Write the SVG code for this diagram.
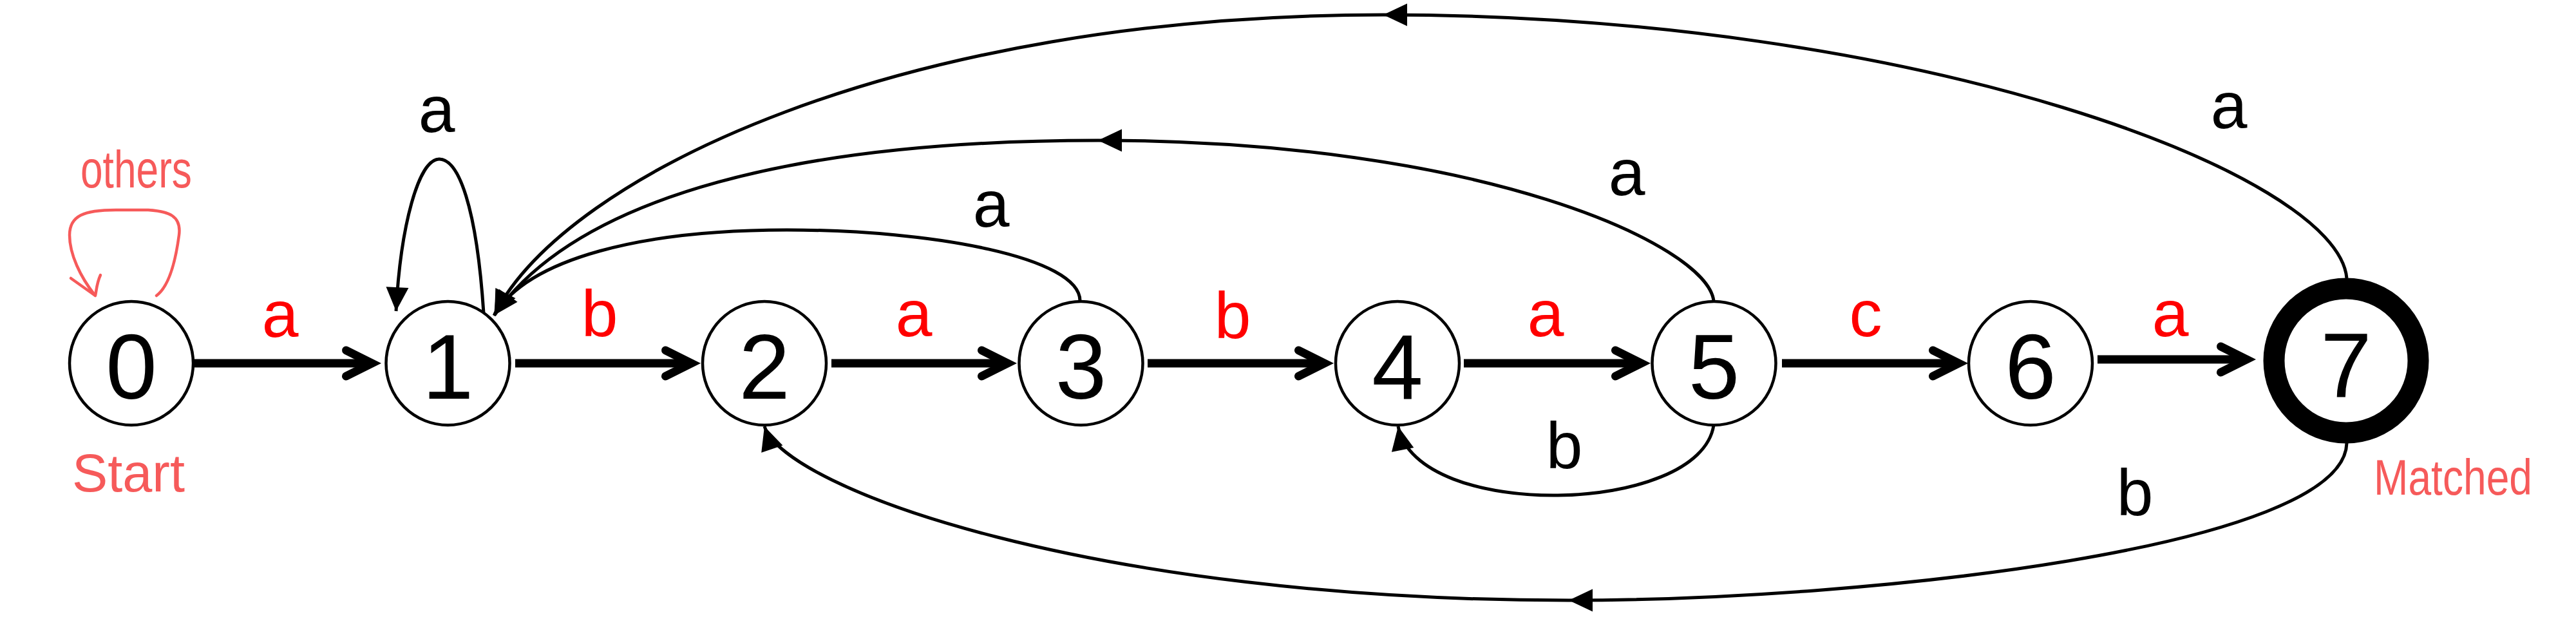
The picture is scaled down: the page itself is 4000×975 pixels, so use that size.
<svg xmlns="http://www.w3.org/2000/svg" width="4000" height="975" viewBox="0 0 4000 975">
<style>
.node circle{fill:#fff;stroke:#000;stroke-width:4.5}
.node text{font-family:"Liberation Sans",Arial,sans-serif;font-size:143px;text-anchor:middle;fill:#000}
.main{fill:none;stroke:#000;stroke-width:13;marker-end:url(#chev)}
.thin{fill:none;stroke:#000;stroke-width:5}
.lbl{font-family:"Liberation Sans Narrow","Liberation Sans",Arial,sans-serif;font-size:102px;text-anchor:middle}
.red{fill:#ff0000}
.blk{fill:#000}
.hand{font-family:"Liberation Sans Narrow","Liberation Sans",Arial,sans-serif;fill:#f65a5a}
.handline{fill:none;stroke:#f65a5a;stroke-width:4.5;stroke-linecap:round;stroke-linejoin:round}
</style>
<defs>
<marker id="chev" markerUnits="userSpaceOnUse" markerWidth="100" markerHeight="100" viewBox="-60 -50 100 100" refX="0" refY="0" orient="auto" overflow="visible">
<path d="M-40,-20 L0,0 L-40,20" fill="none" stroke="#000" stroke-width="13" stroke-linecap="round" stroke-linejoin="miter" stroke-miterlimit="10"/>
</marker>
<marker id="tri" markerUnits="userSpaceOnUse" markerWidth="60" markerHeight="60" viewBox="-50 -30 60 60" refX="0" refY="0" orient="auto" overflow="visible">
<path d="M0,0 L-37,-17.5 L-37,17.5 Z" fill="#000"/>
</marker>
</defs>
<rect width="4000" height="975" fill="#fff"/>

<g id="connectors">
<path class="main" d="M302,564 L577.5,564"/>
<path class="main" d="M800,564 L1073.5,564"/>
<path class="main" d="M1291,564 L1564.5,564"/>
<path class="main" d="M1782,564 L2056.5,564"/>
<path class="main" d="M2273,564 L2548.5,564"/>
<path class="main" d="M2767,564 L3041.5,564"/>
<path class="main" d="M3257,558 L3488.5,558"/>

<path class="thin" marker-end="url(#tri)" d="M751,486 C740,320 712,247 682,247 C650,247 622,350 615,483"/>
<path class="thin" marker-end="url(#tri)" d="M1677,467 C1677,400 1450,357 1222,357 C1000,357 820,400 767,490"/>
<path class="thin" marker-mid="url(#tri)" marker-end="url(#tri)" d="M2661,467 C2650,380 2300,218 1705,218 C1250,218 900,300 768,489"/>
<path class="thin" marker-mid="url(#tri)" marker-end="url(#tri)" d="M3644,432 C3630,270 2980,23 2148,23 C1400,23 880,270 768,488"/>
<path class="thin" marker-end="url(#tri)" d="M2661,660 C2640,800 2200,810 2171,662"/>
<path class="thin" marker-mid="url(#tri)" marker-end="url(#tri)" d="M3644,688 C3640,850 2900,932 2436,932 C1700,932 1220,760 1187,662"/>

<path class="handline" d="M243,459 C262,445 272,410 278,365 C282,335 262,328 230,326 L180,326 C130,326 108,335 108,365 C108,395 125,430 147,458"/>
<path class="handline" d="M110,432 L148,459 M156,427 C150,440 150,450 148,459"/>
</g>

<g id="edge-labels">
<text class="lbl red" x="435" y="523">a</text>
<text class="lbl red" x="931" y="522">b</text>
<text class="lbl red" x="1419" y="522">a</text>
<text class="lbl red" x="1914" y="525">b</text>
<text class="lbl red" x="2400" y="522">a</text>
<text class="lbl red" x="2897" y="522">c</text>
<text class="lbl red" x="3370" y="522">a</text>
<text class="lbl blk" x="678" y="205">a</text>
<text class="lbl blk" x="1539" y="352">a</text>
<text class="lbl blk" x="2526" y="303">a</text>
<text class="lbl blk" x="3461" y="199">a</text>
<text class="lbl blk" x="2429" y="727">b</text>
<text class="lbl blk" x="3315" y="800">b</text>
</g>

<g id="node0" class="node"><circle cx="204" cy="564" r="96"/><text x="204" y="619">0</text></g>
<g id="node1" class="node"><circle cx="695.5" cy="564" r="96"/><text x="695.5" y="619">1</text></g>
<g id="node2" class="node"><circle cx="1187" cy="564" r="96"/><text x="1187" y="619">2</text></g>
<g id="node3" class="node"><circle cx="1678.5" cy="564" r="96"/><text x="1678.5" y="619">3</text></g>
<g id="node4" class="node"><circle cx="2170" cy="564" r="96"/><text x="2170" y="619">4</text></g>
<g id="node5" class="node"><circle cx="2661.5" cy="564" r="96"/><text x="2661.5" y="619">5</text></g>
<g id="node6" class="node"><circle cx="3153" cy="564" r="96"/><text x="3153" y="619">6</text></g>
<g id="node7" class="node"><circle cx="3643" cy="560" r="112" style="stroke-width:33"/><text x="3643" y="617">7</text></g>

<g id="annotations">
<text class="hand" x="125" y="291" font-size="82" textLength="173" lengthAdjust="spacingAndGlyphs">others</text>
<text class="hand" x="112" y="763" font-size="84" textLength="175" lengthAdjust="spacingAndGlyphs">Start</text>
<text class="hand" x="3686" y="768" font-size="78" textLength="246" lengthAdjust="spacingAndGlyphs">Matched</text>
</g>
</svg>
